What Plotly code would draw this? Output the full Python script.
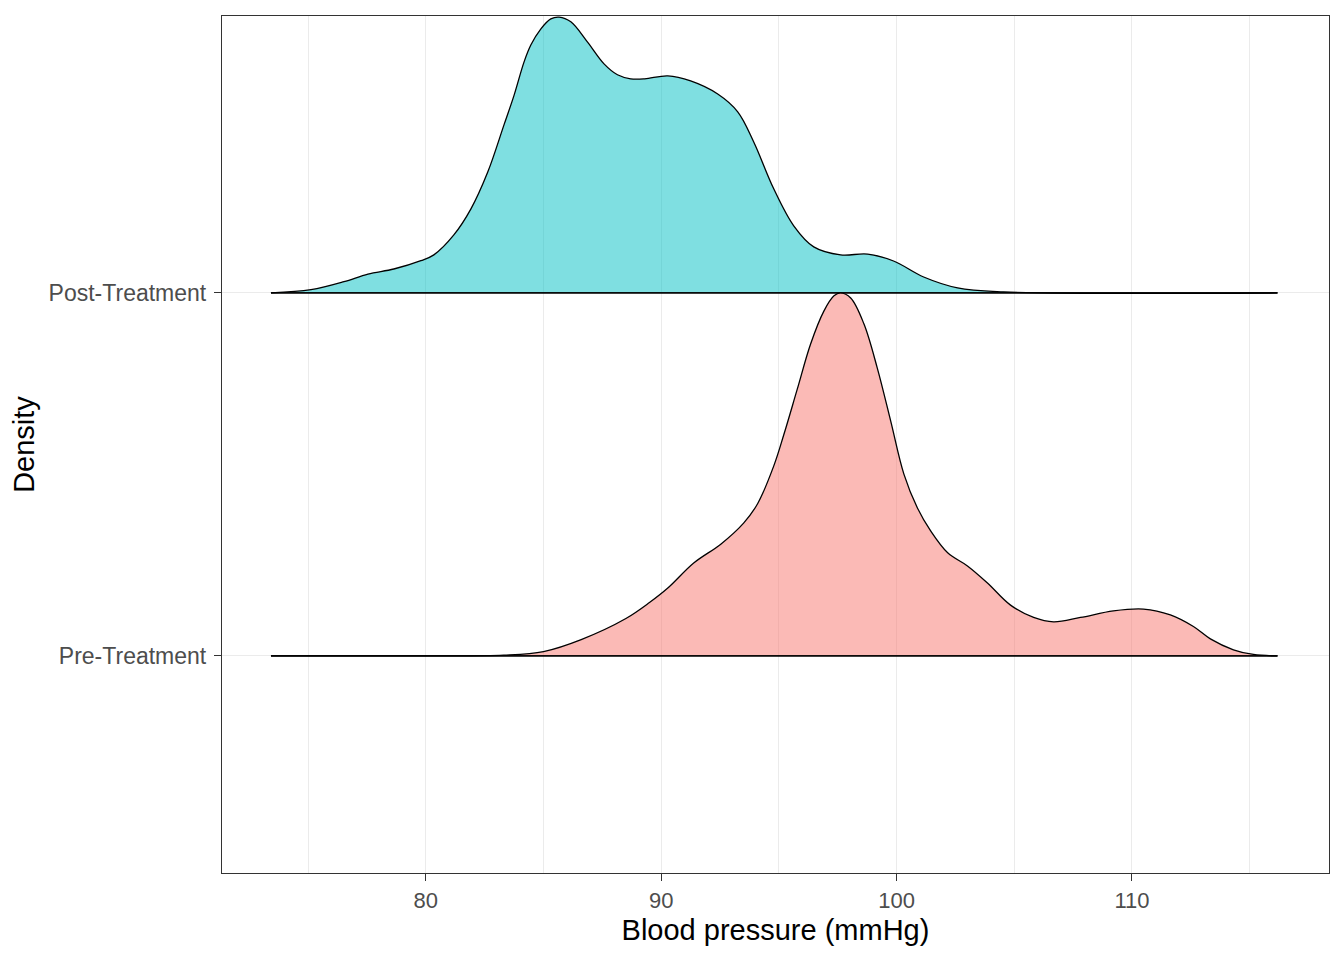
import plotly.graph_objects as go

# Ridge categories and their baseline positions
categories = ["Pre-Treatment", "Post-Treatment"]
baselines = [1, 2]

# Scaled ridge heights (ggridges style)
pre_x = [73.42, 80.0, 83.31, 85.0, 86.6, 88.5, 89.5, 90.28, 91.38, 92.53, 93.50, 94.10,
         94.79, 95.21, 95.78, 96.35, 96.91, 97.34, 97.62, 98.05, 98.61, 99.18, 99.75,
         100.31, 100.88, 101.44, 102.17, 103.01, 103.86, 104.84, 105.82, 106.67, 107.81,
         109.21, 110.49, 111.63, 112.61, 113.33, 114.31, 115.16, 116.18]
pre_h = [0.0, 0.0, 0.002, 0.012, 0.045, 0.103, 0.147, 0.187, 0.256, 0.308, 0.366, 0.420,
         0.525, 0.610, 0.735, 0.860, 0.950, 0.992, 1.0, 0.986, 0.915, 0.793, 0.647,
         0.501, 0.408, 0.345, 0.284, 0.248, 0.201, 0.140, 0.106, 0.094, 0.106,
         0.124, 0.129, 0.113, 0.081, 0.047, 0.017, 0.004, 0.0]

post_x = [73.42, 75.12, 76.52, 77.54, 78.64, 79.79, 80.34, 81.19, 81.91, 82.63, 83.32, 83.75,
          84.17, 84.46, 84.88, 85.31, 85.66, 86.16, 86.87, 87.57, 88.14, 88.70, 89.30, 90.28,
          91.25, 92.40, 93.25, 93.93, 94.78, 95.63, 96.48, 97.62, 98.77, 99.87, 101.15,
          102.59, 104.54, 116.18]
post_h = [0.0, 0.009, 0.031, 0.052, 0.066, 0.089, 0.105, 0.160, 0.231, 0.333, 0.463, 0.545,
          0.636, 0.683, 0.727, 0.755, 0.760, 0.747, 0.691, 0.631, 0.601, 0.590, 0.590, 0.598,
          0.584, 0.548, 0.499, 0.416, 0.287, 0.185, 0.127, 0.105, 0.107, 0.088, 0.044,
          0.014, 0.003, 0.0]

x_ticks = [80, 90, 100, 110]
x_minor = [75, 85, 95, 105, 115]

fills = {"Post-Treatment": "rgba(0,191,196,0.5)", "Pre-Treatment": "rgba(248,118,109,0.5)"}

fig = go.Figure()

ridges = [
    ("Post-Treatment", 2, post_x, post_h),
    ("Pre-Treatment", 1, pre_x, pre_h),
]
for name, base, xs, hs in ridges:
    fig.add_trace(go.Scatter(x=[xs[0], xs[-1]], y=[base, base], mode="lines",
                             line=dict(color="black", width=1.3), showlegend=False,
                             hoverinfo="skip"))
    fig.add_trace(go.Scatter(x=xs, y=[base + h for h in hs], mode="lines",
                             line=dict(color="black", width=1.3, shape="spline", smoothing=1.0),
                             fill="tonexty", fillcolor=fills[name], showlegend=False,
                             name=name))
    fig.add_trace(go.Scatter(x=[xs[0], xs[-1]], y=[base, base], mode="lines",
                             line=dict(color="black", width=1.3), showlegend=False,
                             hoverinfo="skip"))

fig.update_layout(
    width=1344, height=960,
    margin=dict(l=214, r=23, t=8, b=95),
    plot_bgcolor="white", paper_bgcolor="white",
    font=dict(family="Liberation Sans, Arial, sans-serif"),
    xaxis=dict(
        range=[71.34, 118.37], tickvals=x_ticks, ticktext=[str(t) for t in x_ticks],
        showgrid=True, gridcolor="#EBEBEB", gridwidth=1.3,
        minor=dict(tickvals=x_minor, showgrid=True, gridcolor="#EBEBEB",
                   gridwidth=0.8, ticks=""),
        showline=True, linecolor="#333333", linewidth=1.3, mirror=True,
        ticks="outside", ticklen=7, tickcolor="#333333", tickwidth=1.3,
        tickfont=dict(size=22, color="#4D4D4D"),
        title=dict(text="Blood pressure (mmHg)", font=dict(size=29, color="black"), standoff=8),
        zeroline=False,
    ),
    yaxis=dict(
        range=[0.402, 2.763], tickvals=baselines, ticktext=categories,
        showgrid=True, gridcolor="#EBEBEB", gridwidth=1.3,
        showline=True, linecolor="#333333", linewidth=1.3, mirror=True,
        ticks="outside", ticklen=7, tickcolor="#333333", tickwidth=1.3,
        tickfont=dict(size=23, color="#4D4D4D"), ticklabelstandoff=3,
        title=dict(text="Density", font=dict(size=29, color="black"), standoff=8),
        zeroline=False,
    ),
)

fig.write_html("out.html")
